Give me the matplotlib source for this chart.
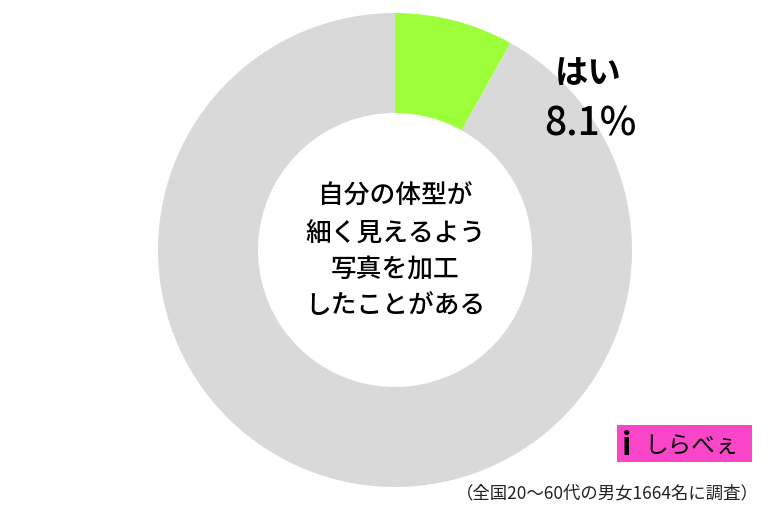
import matplotlib.pyplot as plt
from matplotlib.patches import Rectangle

plt.rcParams['font.family'] = ['Noto Sans CJK JP', 'DejaVu Sans']

labels = ['はい', 'その他']
values = [8.1, 91.9]
colors = ['#9cff3a', '#d9d9d9']
title = '自分の体型が\n細く見えるよう\n写真を加工\nしたことがある'
note = '（全国20〜60代の男女1664名に調査）'

fig = plt.figure(figsize=(7.68, 5.13), dpi=100)
ax = fig.add_axes([0, 0, 1, 1])

# donut, drawn in pixel-like data units
ax.pie(values, colors=colors, startangle=90, counterclock=False,
       center=(395, 263), radius=237,
       wedgeprops=dict(width=100, linewidth=0))
ax.set_xlim(0, 768)
ax.set_ylim(0, 513)
ax.set_aspect('equal')
ax.axis('off')

ax.text(395, 262, title, ha='center', va='center', fontsize=18.5,
        fontweight='medium', linespacing=1.45)

ax.text(588, 439, labels[0], ha='center', va='center', fontsize=24,
        fontweight='bold')
ax.text(590, 389, f'{values[0]}%', ha='center', va='center', fontsize=28,
        fontweight='medium')

# logo box
ax.add_patch(Rectangle((617, 51), 135, 37, facecolor='#f946c9', edgecolor='none'))
ax.text(627, 67, 'i', ha='center', va='center', fontsize=22, fontweight='bold')
ax.text(692, 66, 'しらべぇ', ha='center', va='center', fontsize=17)

ax.text(607, 20, note, ha='center', va='center', fontsize=12.5, color='#222222')

fig.savefig('out.png', dpi=100)
